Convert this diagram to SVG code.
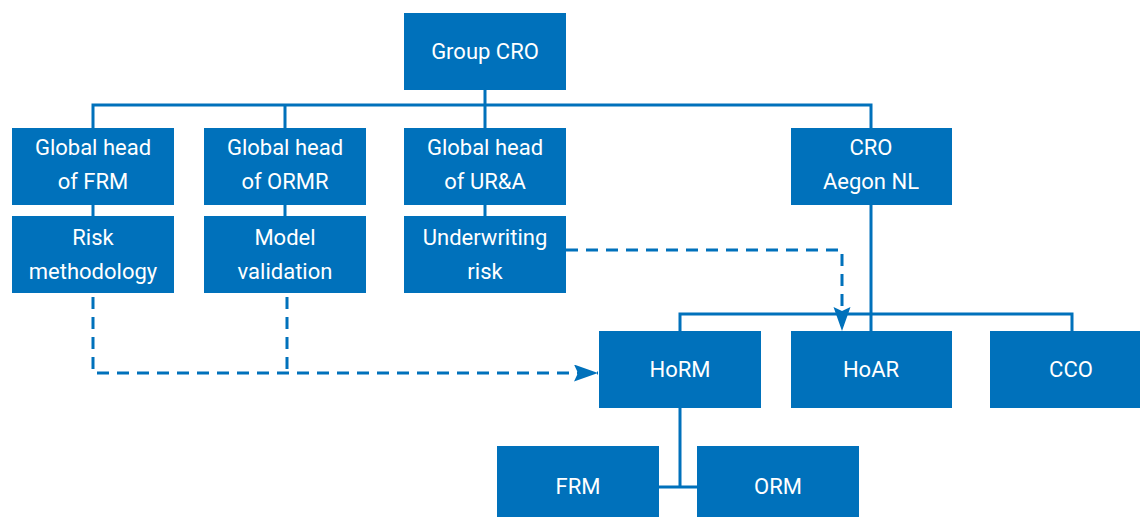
<svg xmlns="http://www.w3.org/2000/svg" width="1140" height="517" viewBox="0 0 1140 517">
<style>
.box{fill:#0071BB}
.t{fill:#ffffff;font-family:Roboto,"Liberation Sans",sans-serif;font-size:22px;text-anchor:middle}
.ln{fill:none;stroke:#0071BB;stroke-width:3}
.dash{fill:none;stroke:#0071BB;stroke-width:3;stroke-dasharray:12 8}
</style>
<defs>
<marker id="arr" markerUnits="userSpaceOnUse" markerWidth="26" markerHeight="20" refX="24" refY="8.5" orient="auto">
<path d="M0,0 L24,8.5 L0,17 L4,8.5 Z" fill="#0071BB"/>
</marker>
</defs>
<rect width="1140" height="517" fill="#ffffff"/>
<g id="connectors">
<path class="ln" d="M485 90 V105 M93 128 V105 H871 V128 M285 105 V128 M485 105 V128"/>
<path class="ln" d="M93 205 V216 M285 205 V216 M485 205 V216"/>
<path class="ln" d="M871 205 V331 M680 331 V314 H1072 V331"/>
<path class="ln" d="M680 408 V487 M659 487 H697"/>
<path class="dash" d="M287 297 V373"/>
<path class="dash" d="M93 297 V373 H598" marker-end="url(#arr)"/>
<path class="dash" d="M566 250 H842 V331" marker-end="url(#arr)"/>
</g>
<g id="group-cro"><rect class="box" x="404" y="13" width="162" height="77"/><text class="t" x="485" y="59">Group CRO</text></g>
<g id="head-frm"><rect class="box" x="12" y="128" width="162" height="77"/><text class="t" x="93" y="155">Global head</text><text class="t" x="93" y="189">of FRM</text></g>
<g id="head-ormr"><rect class="box" x="204" y="128" width="162" height="77"/><text class="t" x="285" y="155">Global head</text><text class="t" x="285" y="189">of ORMR</text></g>
<g id="head-ura"><rect class="box" x="404" y="128" width="162" height="77"/><text class="t" x="485" y="155">Global head</text><text class="t" x="485" y="189">of UR&amp;A</text></g>
<g id="cro-nl"><rect class="box" x="791" y="128" width="161" height="77"/><text class="t" x="871" y="155">CRO</text><text class="t" x="871" y="189">Aegon NL</text></g>
<g id="risk-methodology"><rect class="box" x="12" y="216" width="162" height="77"/><text class="t" x="93" y="245">Risk</text><text class="t" x="93" y="279">methodology</text></g>
<g id="model-validation"><rect class="box" x="204" y="216" width="162" height="77"/><text class="t" x="285" y="245">Model</text><text class="t" x="285" y="279">validation</text></g>
<g id="underwriting-risk"><rect class="box" x="404" y="216" width="162" height="77"/><text class="t" x="485" y="245">Underwriting</text><text class="t" x="485" y="279">risk</text></g>
<g id="horm"><rect class="box" x="599" y="331" width="162" height="77"/><text class="t" x="680" y="377">HoRM</text></g>
<g id="hoar"><rect class="box" x="791" y="331" width="161" height="77"/><text class="t" x="871" y="377">HoAR</text></g>
<g id="cco"><rect class="box" x="990" y="331" width="150" height="77"/><text class="t" x="1071" y="377">CCO</text></g>
<g id="frm"><rect class="box" x="497" y="446" width="162" height="77"/><text class="t" x="578" y="494">FRM</text></g>
<g id="orm"><rect class="box" x="697" y="446" width="162" height="77"/><text class="t" x="778" y="494">ORM</text></g>
</svg>
